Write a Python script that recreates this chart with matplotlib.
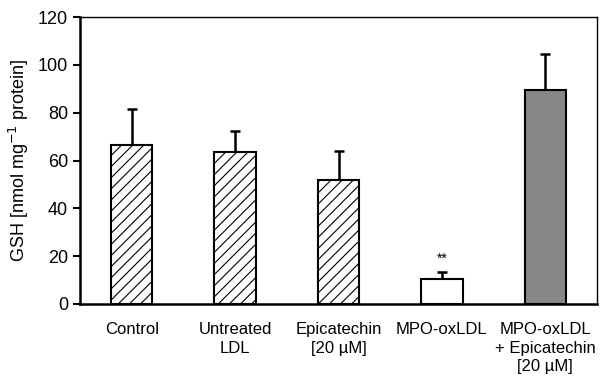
import matplotlib
matplotlib.use("Agg")
import matplotlib.pyplot as plt

categories = ["Control", "Untreated\nLDL", "Epicatechin\n[20 µM]", "MPO-oxLDL", "MPO-oxLDL\n+ Epicatechin\n[20 µM]"]
values = [66.5, 63.6, 51.9, 10.3, 89.3]
errors = [15.1, 8.8, 12.1, 3.2, 15.2]
styles = ["hatch", "hatch", "hatch", "white", "gray"]

plt.rcParams['font.family'] = ['Liberation Sans', 'DejaVu Sans']
plt.rcParams['hatch.linewidth'] = 0.8

fig = plt.figure(figsize=(6.02, 3.81), dpi=100)
ax = fig.add_axes([80/602, 1-304/381, 517/602, 287/381])

x = list(range(len(categories)))
for xi, v, e, s in zip(x, values, errors, styles):
    if s == "hatch":
        fc, h = "white", "///"
    elif s == "white":
        fc, h = "white", None
    else:
        fc, h = "#888888", None
    ax.bar(xi, v, width=0.4, color=fc, edgecolor="black", linewidth=1.5, hatch=h, zorder=2)
    ax.errorbar(xi, v, yerr=[[0], [e]], fmt="none", ecolor="black", elinewidth=1.8,
                capsize=3.5, capthick=1.8, zorder=1)

ax.text(3, values[3] + errors[3] + 2.5, "**", ha="center", va="bottom", fontsize=10)

ax.set_xlim(-0.5, 4.5)
ax.set_ylim(0, 120)
ax.set_yticks(range(0, 121, 20))
ax.tick_params(axis="y", labelsize=13, width=1.5, length=5, direction="out")
ax.set_xticks(x)
ax.set_xticklabels(categories, fontsize=12, linespacing=1.3)
ax.tick_params(axis="x", length=0, pad=13)
for sp in ["left", "bottom"]:
    ax.spines[sp].set_linewidth(1.8)
for sp in ["top", "right"]:
    ax.spines[sp].set_linewidth(1.0)
ax.set_ylabel("GSH [nmol mg$^{-1}$ protein]", fontsize=13, labelpad=5)

fig.savefig("out.png", dpi=100)
